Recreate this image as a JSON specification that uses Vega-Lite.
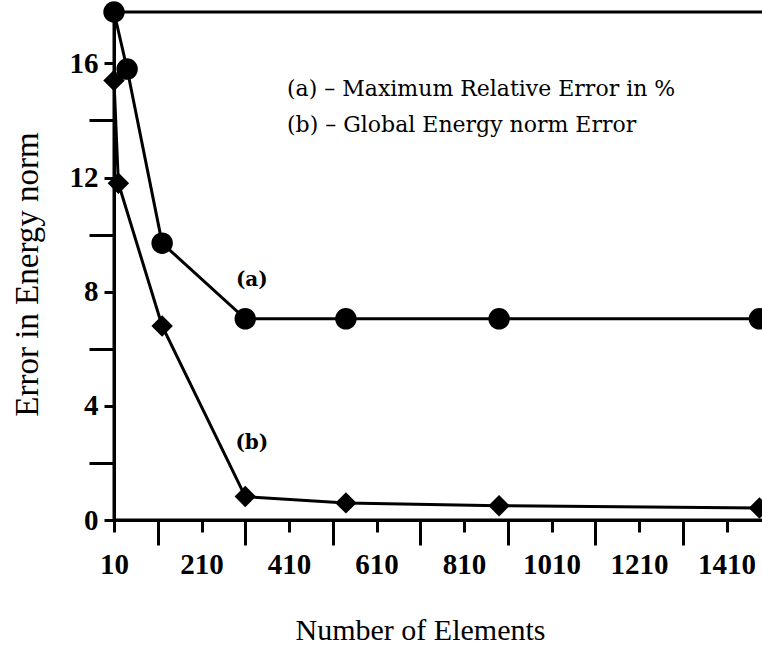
{
  "$schema": "https://vega.github.io/schema/vega-lite/v6.json",
  "width": 652,
  "height": 508,
  "autosize": {"type": "none"},
  "padding": {"left": 114, "top": 12, "right": 0, "bottom": 130},
  "background": "white",
  "config": {
    "view": {"stroke": "black", "strokeWidth": 3},
    "font": "Liberation Serif"
  },
  "data": {
    "values": [
      {"series": "a", "elements": 10, "error": 17.8},
      {"series": "a", "elements": 40, "error": 15.8},
      {"series": "a", "elements": 120, "error": 9.7},
      {"series": "a", "elements": 310, "error": 7.05},
      {"series": "a", "elements": 540, "error": 7.05},
      {"series": "a", "elements": 890, "error": 7.05},
      {"series": "a", "elements": 1485, "error": 7.05},
      {"series": "b", "elements": 10, "error": 15.4},
      {"series": "b", "elements": 20, "error": 11.8},
      {"series": "b", "elements": 120, "error": 6.8},
      {"series": "b", "elements": 310, "error": 0.82},
      {"series": "b", "elements": 540, "error": 0.6},
      {"series": "b", "elements": 890, "error": 0.5},
      {"series": "b", "elements": 1485, "error": 0.42}
    ]
  },
  "encoding": {
    "x": {
      "field": "elements",
      "type": "quantitative",
      "scale": {"domain": [10, 1500], "nice": false, "zero": false},
      "axis": {
        "values": [10, 110, 210, 310, 410, 510, 610, 710, 810, 910, 1010, 1110, 1210, 1310, 1410],
        "format": "d",
        "labelExpr": "(datum.value - 10) % 200 === 0 ? datum.label : ''",
        "tickSize": {"condition": {"test": "(datum.value - 10) % 200 === 0", "value": 12}, "value": 25},
        "tickWidth": 3,
        "tickColor": "black",
        "domainWidth": 3,
        "domainColor": "black",
        "grid": false,
        "labelFont": "Liberation Serif",
        "labelFontWeight": "bold",
        "labelFontSize": 29,
        "labelColor": "black",
        "labelPadding": 18,
        "labelFlush": false,
        "labelOverlap": false,
        "title": "Number of Elements",
        "titleFont": "Liberation Serif",
        "titleFontSize": 30,
        "titleFontWeight": "normal",
        "titleColor": "black",
        "titlePadding": 23,
        "titleX": 306
      }
    },
    "y": {
      "field": "error",
      "type": "quantitative",
      "scale": {"domain": [0, 17.8], "nice": false},
      "axis": {
        "values": [0, 2, 4, 6, 8, 10, 12, 14, 16],
        "labelExpr": "datum.value % 4 === 0 ? datum.label : ''",
        "tickSize": {"condition": {"test": "datum.value % 4 === 0", "value": 10}, "value": 25},
        "tickWidth": 3,
        "tickColor": "black",
        "domainWidth": 3,
        "domainColor": "black",
        "grid": false,
        "labelFont": "Liberation Serif",
        "labelFontWeight": "bold",
        "labelFontSize": 29,
        "labelColor": "black",
        "labelPadding": 6,
        "labelFlush": false,
        "labelOverlap": false,
        "title": "Error in Energy norm",
        "titleFont": "Liberation Serif",
        "titleFontSize": 33,
        "titleFontWeight": "normal",
        "titleColor": "black",
        "titlePadding": 25,
        "titleY": 262
      }
    }
  },
  "layer": [
    {
      "mark": {"type": "line", "color": "black", "strokeWidth": 3},
      "encoding": {"detail": {"field": "series"}}
    },
    {
      "mark": {"type": "point", "filled": true, "color": "black", "opacity": 1, "size": 460},
      "encoding": {
        "shape": {
          "field": "series",
          "type": "nominal",
          "scale": {"domain": ["a", "b"], "range": ["circle", "diamond"]},
          "legend": {
            "orient": "none",
            "legendX": 151,
            "legendY": 66,
            "title": null,
            "symbolOpacity": 0,
            "symbolSize": 1,
            "symbolStrokeWidth": 0,
            "labelOffset": 0,
            "padding": 0,
            "labelFont": "DejaVu Serif",
            "labelFontSize": 22,
            "labelColor": "black",
            "labelLimit": 600,
            "rowPadding": 14,
            "labelExpr": "datum.label == 'a' ? '(a) – Maximum Relative Error in %' : '(b) – Global Energy norm Error'"
          }
        }
      }
    },
    {
      "data": {
        "values": [
          {"tag": "(a)", "elements": 325, "error": 8.4},
          {"tag": "(b)", "elements": 325, "error": 2.7}
        ]
      },
      "mark": {"type": "text", "font": "DejaVu Serif", "fontSize": 20, "fontWeight": "bold", "color": "black"},
      "encoding": {"text": {"field": "tag"}}
    }
  ]
}
